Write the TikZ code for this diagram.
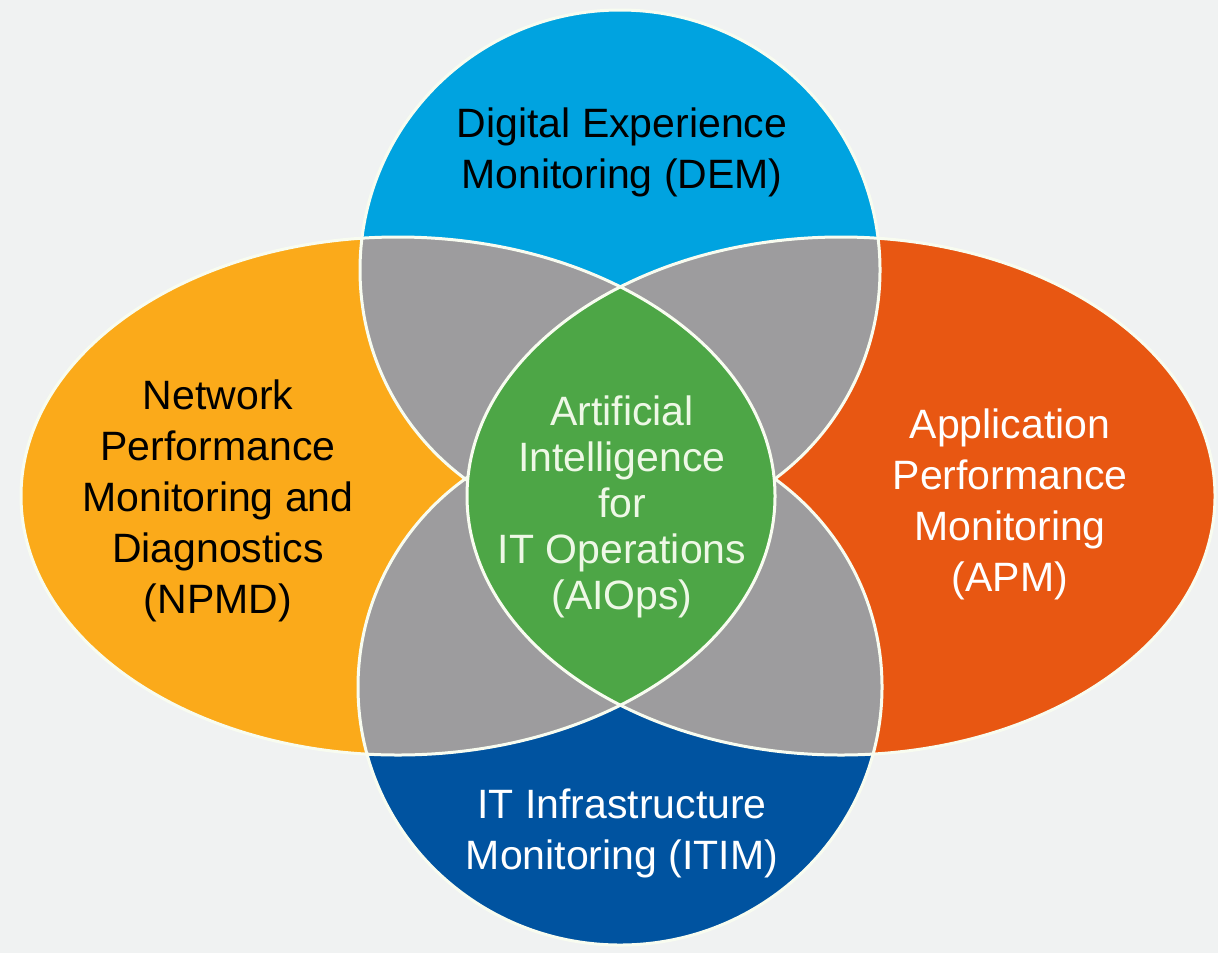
\documentclass[tikz,border=0pt]{standalone}
\usepackage{fontspec}
\setmainfont{Liberation Sans}
\definecolor{bgc}{HTML}{F0F2F2}
\definecolor{demc}{HTML}{00A3E0}
\definecolor{itimc}{HTML}{0053A0}
\definecolor{npmdc}{HTML}{FBAA1A}
\definecolor{apmc}{HTML}{E85712}
\definecolor{ovc}{HTML}{9D9C9E}
\definecolor{aic}{HTML}{4DA646}
\definecolor{linec}{HTML}{F8FCF0}
\definecolor{aitext}{HTML}{EEF8E6}
\begin{document}
\begin{tikzpicture}[x=0.5pt,y=-0.5pt,
  lbl/.style={align=center,inner sep=0pt,font=\fontsize{20.5}{25.5}\selectfont},
  rim/.style={draw=linec,line width=1.5pt}]
\def\Etop{(620,270) ellipse [x radius=260,y radius=260]}
\def\Ebot{(620,687) ellipse [x radius=262,y radius=258]}
\def\Eleft{(398,496) ellipse [x radius=377,y radius=259]}
\def\Eright{(841,496) ellipse [x radius=374,y radius=259]}
\fill[bgc] (0,0) rectangle (1218,953);
\useasboundingbox (0,0) rectangle (1218,953);
% petals
\fill[demc] \Etop;
\fill[itimc] \Ebot;
\fill[npmdc] \Eleft;
\fill[apmc] \Eright;
% pairwise overlaps
\begin{scope}
  \clip \Etop;
  \fill[ovc] \Eleft;
  \fill[ovc] \Eright;
\end{scope}
\begin{scope}
  \clip \Ebot;
  \fill[ovc] \Eleft;
  \fill[ovc] \Eright;
\end{scope}
\draw[rim] \Etop;
\draw[rim] \Ebot;
% centre
\begin{scope}
  \clip \Eleft;
  \fill[aic] \Eright;
\end{scope}
\draw[rim] \Eleft;
\draw[rim] \Eright;
% labels
\node[lbl,text=black] (dem) at (622,152) {Digital Experience\\Monitoring (DEM)};
\node[lbl,text=black] (npmd) at (218,501) {Network\\Performance\\Monitoring and\\Diagnostics\\(NPMD)};
\node[lbl,text=white] (apm) at (1010,504) {Application\\Performance\\Monitoring\\(APM)};
\node[lbl,text=white] (itim) at (622,833) {IT Infrastructure\\Monitoring (ITIM)};
\node[lbl,text=aitext,font=\fontsize{20.5}{23}\selectfont] (aiops) at (622,507) {Artificial\\Intelligence\\for\\IT Operations\\(AIOps)};
\end{tikzpicture}
\end{document}
